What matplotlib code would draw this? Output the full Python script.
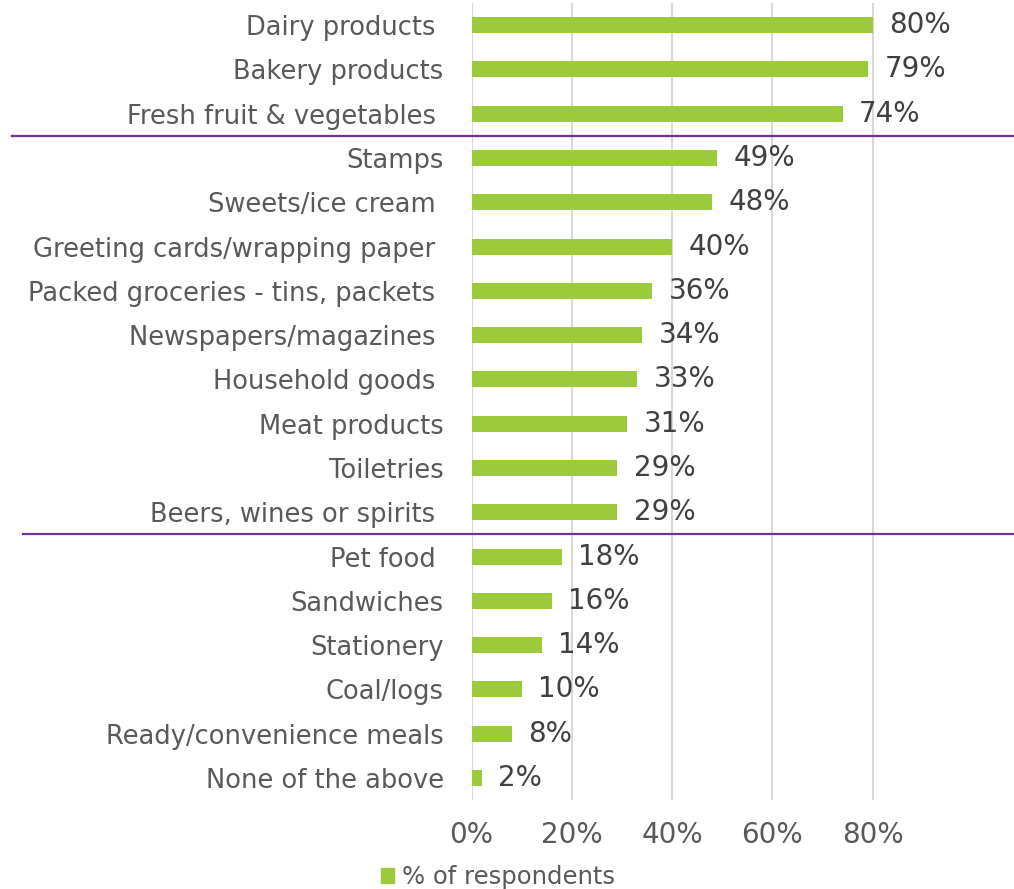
import matplotlib.pyplot as plt
import matplotlib.transforms as mtransforms
from matplotlib.ticker import PercentFormatter
from matplotlib.patches import Patch

plt.rcParams['font.family'] = ['DejaVu Sans']

categories = [
    "Dairy products ", "Bakery products", "Fresh fruit & vegetables ",
    "Stamps", "Sweets/ice cream ", "Greeting cards/wrapping paper ",
    "Packed groceries - tins, packets ", "Newspapers/magazines ",
    "Household goods ", "Meat products", "Toiletries",
    "Beers, wines or spirits ", "Pet food ", "Sandwiches", "Stationery",
    "Coal/logs", "Ready/convenience meals", "None of the above",
]
values = [0.80, 0.79, 0.74, 0.49, 0.48, 0.40, 0.36, 0.34, 0.33,
          0.31, 0.29, 0.29, 0.18, 0.16, 0.14, 0.10, 0.08, 0.02]
x_ticks = [0, 0.2, 0.4, 0.6, 0.8]
# group separators sit between these rows
separators = [2.5, 11.5]

bar_color = "#9BCB3B"
text_grey = "#595959"

fig = plt.figure(figsize=(10.14, 8.89), dpi=100)
ax = fig.add_axes([0.465, 0.1, 0.445, 0.8966])

ypos = list(range(len(categories)))
ax.barh(ypos, values, height=0.36, color=bar_color, zorder=3)

for y, v in zip(ypos, values):
    ax.annotate(f"{v:.0%}", (v, y), xytext=(12, 0), textcoords="offset points",
                ha="left", va="center", fontsize=20, color="#404040")

ax.set_ylim(len(categories) - 0.5, -0.5)
ax.set_xlim(0, 0.9)
ax.set_xticks(x_ticks)
ax.xaxis.set_major_formatter(PercentFormatter(1.0, decimals=0))
ax.grid(axis="x", color="#D9D9D9", linewidth=1.5, zorder=0)

ax.set_yticks(ypos)
ax.set_yticklabels(categories)
ax.tick_params(axis="y", length=0, pad=20, labelsize=18.5, labelcolor=text_grey)
ax.tick_params(axis="x", length=0, pad=15, labelsize=20, labelcolor=text_grey)
for s in ax.spines.values():
    s.set_visible(False)

# purple separators running across the whole figure width
trans = mtransforms.blended_transform_factory(fig.transFigure, ax.transData)
ax.plot([12 / 1014, 1.0], [separators[0]] * 2, color="#7030A0", lw=1.6,
        transform=trans, clip_on=False, zorder=4)
ax.plot([23 / 1014, 1.0], [separators[1]] * 2, color="#7030A0", lw=1.6,
        transform=trans, clip_on=False, zorder=4)

fig.legend(handles=[Patch(color=bar_color, label="% of respondents")],
           loc="center", bbox_to_anchor=(498 / 1014, 1 - 877 / 889),
           frameon=False, fontsize=17.5, labelcolor=text_grey,
           handlelength=0.55, handleheight=0.55, handletextpad=0.35)

fig.savefig("out.png", dpi=100)
